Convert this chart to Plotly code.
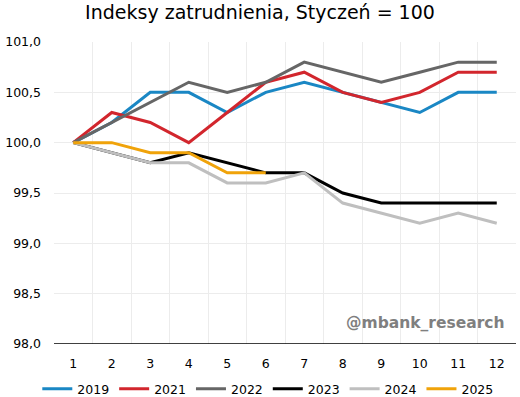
import plotly.graph_objects as go

months = list(range(1, 13))
y2019 = [100.0, 100.2, 100.5, 100.5, 100.3, 100.5, 100.6, 100.5, 100.4, 100.3, 100.5, 100.5]
y2021 = [100.0, 100.3, 100.2, 100.0, 100.3, 100.6, 100.7, 100.5, 100.4, 100.5, 100.7, 100.7]
y2022 = [100.0, 100.2, 100.4, 100.6, 100.5, 100.6, 100.8, 100.7, 100.6, 100.7, 100.8, 100.8]
y2023 = [100.0, 99.9, 99.8, 99.9, 99.8, 99.7, 99.7, 99.5, 99.4, 99.4, 99.4, 99.4]
y2024 = [100.0, 99.9, 99.8, 99.8, 99.6, 99.6, 99.7, 99.4, 99.3, 99.2, 99.3, 99.2]
y2025 = [100.0, 100.0, 99.9, 99.9, 99.7, 99.7]

series = [
    ("2019", y2019, "#1a87c4"),
    ("2021", y2021, "#d2262d"),
    ("2022", y2022, "#666666"),
    ("2023", y2023, "#000000"),
    ("2024", y2024, "#bfbfbf"),
    ("2025", y2025, "#f0a30a"),
]

fig = go.Figure()
for name, ys, col in series:
    fig.add_trace(go.Scatter(x=months[:len(ys)], y=ys, name=name, mode="lines",
                             line=dict(color=col, width=3)))

yticks = [98.0, 98.5, 99.0, 99.5, 100.0, 100.5, 101.0]
boundaries = [m - 0.5 for m in months] + [months[-1] + 0.5]
fig.update_layout(
    width=520, height=397,
    margin=dict(l=54, r=4, t=42, b=53, autoexpand=False),
    paper_bgcolor="white", plot_bgcolor="white",
    font=dict(family="DejaVu Sans", size=12.5, color="#000"),
    title=dict(text="Indeksy zatrudnienia, Styczeń = 100", x=0.5, xanchor="center",
               xref="container", y=0.97, yanchor="middle",
               font=dict(size=19, color="#000")),
    xaxis=dict(range=[0.5, 12.5], tickvals=months, ticktext=[str(m) for m in months],
               showgrid=False, showline=False, zeroline=False,
               ticks="", ticklabelstandoff=10, tickfont=dict(size=12.5),
               minor=dict(tickvals=boundaries, showgrid=True, gridcolor="#ececec",
                          ticks="")),
    yaxis=dict(range=[98.0, 101.0], tickvals=yticks,
               ticktext=[f"{v:.1f}".replace(".", ",") for v in yticks],
               showgrid=True, gridcolor="#ececec", zeroline=False, ticks="",
               ticklabelstandoff=12, tickfont=dict(size=12.5)),
    legend=dict(orientation="h", xref="container", x=0.515, xanchor="center",
                yref="container", y=0.02, yanchor="middle",
                font=dict(size=12.5), itemwidth=30, traceorder="normal"),
    showlegend=True,
)
fig.add_shape(type="line", xref="paper", yref="y", x0=0, x1=1, y0=98.0, y1=98.0,
              line=dict(color="#000", width=1.5))
fig.add_annotation(text="<b>@mbank_research</b>", xref="paper", yref="paper",
                   x=0.98, y=0.07, xanchor="right", yanchor="middle", showarrow=False,
                   font=dict(size=15.5, color="#7f7f7f"))
fig.write_html("out.html", config={"displayModeBar": False},
               post_script="document.body.style.margin='0';")
